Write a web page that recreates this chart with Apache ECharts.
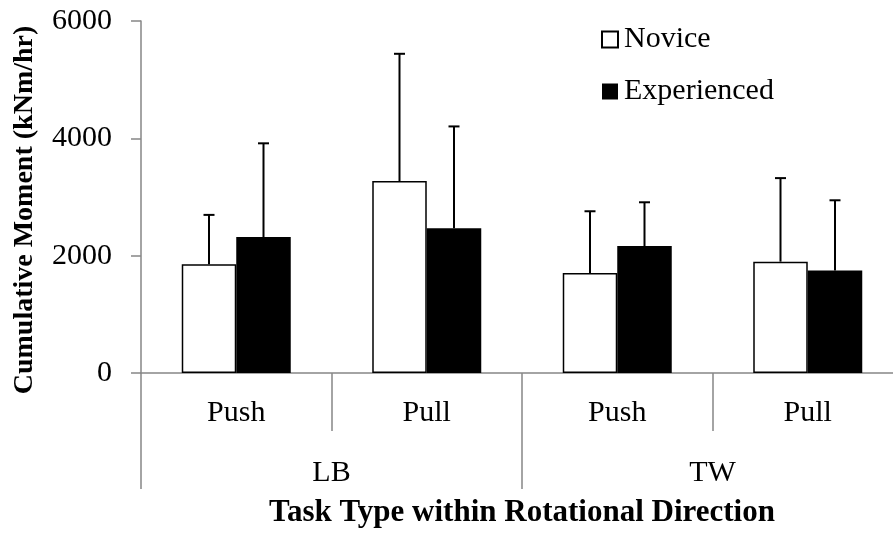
<!DOCTYPE html>
<html>
<head>
<meta charset="utf-8">
<script src="https://cdn.jsdelivr.net/npm/echarts@6/dist/echarts.min.js"></script>
<style>
html,body{margin:0;padding:0;background:#fff;overflow:hidden;}
#chart{width:903px;height:533px;}
</style>
</head>
<body>
<div id="chart"></div>
<script>
// ---- data ----
var taskTypes = ['Push', 'Pull', 'Push', 'Pull'];
var directions = ['LB', 'TW'];
var seriesNames = ['Novice', 'Experienced'];
var noviceMean = [1853, 3271, 1706, 1898];
var noviceSD = [842, 2170, 1051, 1424];
var experiencedMean = [2317, 2469, 2164, 1746];
var experiencedSD = [1598, 1734, 746, 1198];
var yTicks = [0, 2000, 4000, 6000];

// ---- styles ----
var FONT = "'Liberation Serif','Times New Roman',serif";
var AXIS_GRAY = '#868686';
var BAR_W = 54.5;

function errData(means, sds) {
  return means.map(function (m, i) { return [i, m, sds[i]]; });
}
function errRender(offsetSign) {
  return function (params, api) {
    var i = api.value(0);
    var m = api.value(1);
    var sd = api.value(2);
    var base = api.coord([i, m]);
    var top = api.coord([i, m + sd]);
    var x = base[0] + offsetSign * BAR_W / 2;
    var half = 5.5;
    return {
      type: 'group',
      children: [
        { type: 'line', shape: { x1: x, y1: base[1], x2: x, y2: top[1] },
          style: { stroke: '#000', lineWidth: 2 } },
        { type: 'line', shape: { x1: x - half, y1: top[1], x2: x + half, y2: top[1] },
          style: { stroke: '#000', lineWidth: 2 } }
      ]
    };
  };
}

var chart = echarts.init(document.getElementById('chart'), null, { renderer: 'canvas' });
var option = {
  backgroundColor: '#fff',
  animation: false,
  textStyle: { fontFamily: FONT, color: '#000' },
  grid: { left: 141, top: 21, right: 0, bottom: 158, containLabel: false },
  legend: {
    data: seriesNames,
    orient: 'vertical',
    left: 596,
    top: 19,
    itemWidth: 16,
    itemHeight: 16,
    itemGap: 21,
    icon: 'rect',
    textStyle: { fontFamily: FONT, fontSize: 30, color: '#000', padding: [0, 0, 0, 1], lineHeight: 31 }
  },
  xAxis: [
    {
      type: 'category',
      data: taskTypes,
      position: 'bottom',
      axisLine: { show: true, lineStyle: { color: AXIS_GRAY, width: 1.5 } },
      axisTick: { show: true, length: 58, lineStyle: { color: AXIS_GRAY, width: 1.5 } },
      axisLabel: { fontFamily: FONT, fontSize: 30, color: '#000', margin: 25, interval: 0 },
      splitLine: { show: false }
    },
    {
      type: 'category',
      data: directions,
      position: 'bottom',
      axisLine: { show: false },
      axisTick: { show: true, length: 116, lineStyle: { color: AXIS_GRAY, width: 1.5 } },
      axisLabel: { fontFamily: FONT, fontSize: 30, color: '#000', margin: 85, interval: 0 },
      splitLine: { show: false },
      name: 'Task Type within Rotational Direction',
      nameLocation: 'middle',
      nameGap: 124,
      nameTextStyle: { fontFamily: FONT, fontSize: 31, fontWeight: 'bold', color: '#000' }
    }
  ],
  yAxis: {
    type: 'value',
    min: yTicks[0],
    max: yTicks[yTicks.length - 1],
    interval: 2000,
    axisLine: { show: true, lineStyle: { color: AXIS_GRAY, width: 1.5 } },
    axisTick: { show: true, length: 10, lineStyle: { color: AXIS_GRAY, width: 1.5 } },
    axisLabel: { fontFamily: FONT, fontSize: 30, color: '#000', margin: 29,
      formatter: function (v) { return String(v); } },
    splitLine: { show: false }
  },
  graphic: [
    {
      type: 'text',
      x: 25,
      y: 210,
      rotation: Math.PI / 2,
      style: {
        text: 'Cumulative Moment (kNm/hr)',
        fontFamily: FONT,
        fontSize: 28,
        fontWeight: 'bold',
        fill: '#000',
        align: 'center',
        verticalAlign: 'middle'
      }
    }
  ],
  series: [
    {
      name: seriesNames[0],
      type: 'bar',
      xAxisIndex: 0,
      data: noviceMean,
      barWidth: BAR_W,
      barGap: '0%',
      itemStyle: { color: '#fff', borderColor: '#000', borderWidth: 1.5 },
      z: 2
    },
    {
      name: seriesNames[1],
      type: 'bar',
      xAxisIndex: 0,
      data: experiencedMean,
      barWidth: BAR_W,
      barGap: '0%',
      itemStyle: { color: '#000', borderColor: '#000', borderWidth: 0 },
      z: 2
    },
    {
      type: 'custom',
      name: 'NoviceErr',
      xAxisIndex: 0,
      renderItem: errRender(-1),
      data: errData(noviceMean, noviceSD),
      encode: { x: 0, y: [1, 2] },
      z: 3
    },
    {
      type: 'custom',
      name: 'ExperiencedErr',
      xAxisIndex: 0,
      renderItem: errRender(1),
      data: errData(experiencedMean, experiencedSD),
      encode: { x: 0, y: [1, 2] },
      z: 3
    }
  ]
};
chart.setOption(option);
</script>
</body>
</html>
